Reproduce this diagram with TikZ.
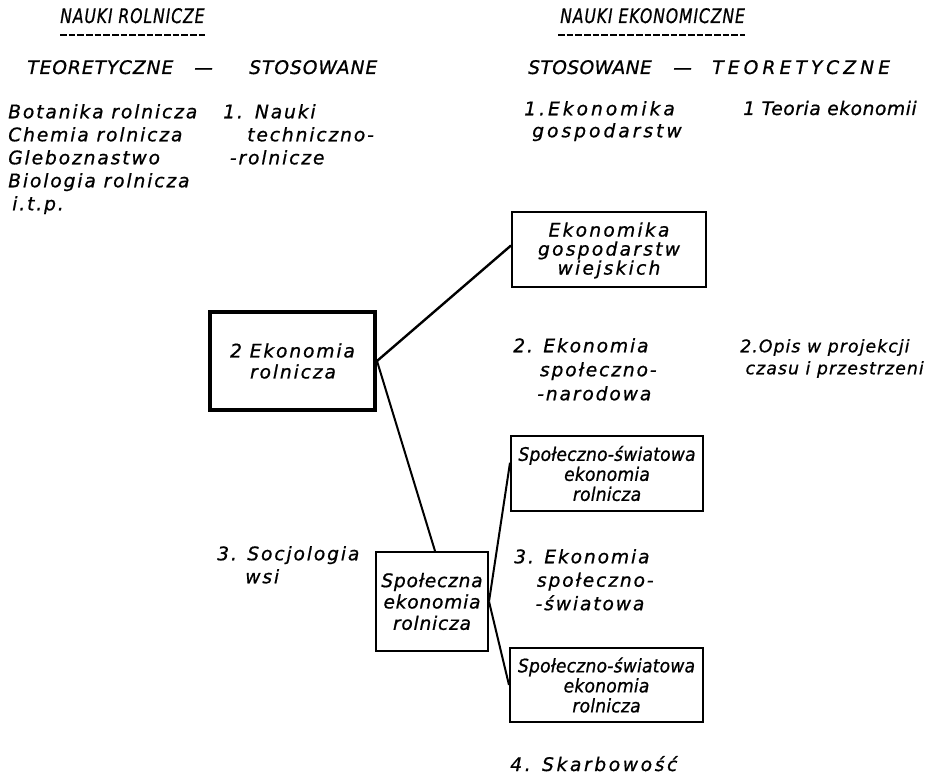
\documentclass[tikz,border=0pt]{standalone}
\usepackage{fontspec}
\usepackage{graphicx}
\newfontfamily\hand{DejaVu Sans}[LetterSpace=10, FakeBold=0.8]
\usetikzlibrary{calc}
\newcommand{\fs}[2]{\fontsize{#1}{#2}\selectfont}
\newcommand{\fl}{\rule{0pt}{12pt}}
\newcommand{\ls}[1]{\addfontfeature{LetterSpace=#1}}
\newcommand{\narrow}[1]{\scalebox{0.78}[1]{#1}}
\begin{document}
\begin{tikzpicture}[x=0.75pt,y=-0.75pt,
  txt/.style={anchor=north west, inner sep=0pt, align=left, font=\hand\itshape\fs{14}{17.25}},
  one/.style={anchor=base west, inner sep=0pt, font=\hand\itshape\fs{14}{17}},
  head/.style={anchor=base west, inner sep=0pt, font=\hand\itshape\fs{15}{17}\ls{6}},
  uline/.style={line width=1.5pt, dash pattern=on 5pt off 1.5pt},
  box/.style={draw, line width=1.5pt, inner sep=0pt, align=center},
  conn/.style={line width=1.5pt}]
\useasboundingbox (0,0) rectangle (946,777);
\fill[white] (0,0) rectangle (946,777);

% headings
\node[head] (hR) at (60,23) {\narrow{NAUKI ROLNICZE}};
\node[head] (hE) at (560,23) {\narrow{NAUKI EKONOMICZNE}};
\draw[uline] ($(hR.base west)+(0,12)$) -- ($(hR.base east)+(0,12)$);
\draw[uline] ($(hE.base west)+(-2,12)$) -- ($(hE.base east)+(0,12)$);

% second row
\node[one, font=\hand\itshape\fs{14}{17}\ls{5}] (tL) at (27,74) {TEORETYCZNE};
\node[one] (dL) at (194,74) {—};
\node[one, font=\hand\itshape\fs{14}{17}\ls{5}] (sL) at (249,74) {STOSOWANE};
\node[one, font=\hand\itshape\fs{14}{17}\ls{2}] (sR) at (528,74) {STOSOWANE};
\node[one] (dR) at (673,74) {—};
\node[one, font=\hand\itshape\fs{14}{17}\ls{22}] (tR) at (712,74) {TEORETYCZNE};

% left column
\node[txt] (teo) at (8,102) {\fl Botanika rolnicza\\Chemia rolnicza\\Gleboznastwo\\Biologia rolnicza\\\hspace*{3pt}i.t.p.};
\node[txt] (n1) at (223,102) {\fl 1.\hspace*{9pt}Nauki\\\hspace*{18pt}techniczno-\\\hspace*{5pt}-rolnicze};

% right column
\node[txt, font=\hand\itshape\fs{14}{16.5}\ls{16}] (e1) at (524,99) {\fl 1.Ekonomika\\\hspace*{6pt}gospodarstw};
\node[one, font=\hand\itshape\fs{14}{17}\ls{3}] (t1) at (743,115) {1 Teoria ekonomii};

\node[box, minimum width=145.5pt, minimum height=56.25pt, font=\hand\itshape\fs{14}{14.25}\ls{12}] (egw) at (609,249.5) {\fl Ekonomika\\gospodarstw\\wiejskich};

\node[box, line width=3pt, minimum width=123.75pt, minimum height=73.5pt, align=left, font=\hand\itshape\fs{14}{15.75}] (box2) at (292.5,361) {2 Ekonomia\\\hspace*{15pt}rolnicza};

\node[txt, font=\hand\itshape\fs{14}{18}] (e2) at (513,336) {\fl 2. Ekonomia\\\hspace*{20pt}społeczno-\\\hspace*{18pt}-narodowa};
\node[txt, font=\hand\itshape\fs{13}{16.5}\ls{6}] (o2) at (740,336) {\fl 2.Opis w projekcji\\\hspace*{4pt}czasu i przestrzeni};

\node[box, minimum width=144pt, minimum height=56.25pt, font=\hand\itshape\fs{14}{15}\addfontfeature{LetterSpace=1,FakeStretch=0.92}] (sw1) at (607,473.5) {Społeczno-światowa\\ekonomia\\rolnicza};

\node[txt] (s3) at (217,544) {\fl 3. Socjologia\\\hspace*{21pt}wsi};

\node[box, minimum width=84pt, minimum height=74.25pt, font=\hand\itshape\fs{14}{16}\ls{4}] (spol) at (432,601.5) {Społeczna\\ekonomia\\rolnicza};

\node[txt, font=\hand\itshape\fs{14}{17.6}] (e3) at (514,547) {\fl 3. Ekonomia\\\hspace*{17pt}społeczno-\\\hspace*{16pt}-światowa};

\node[box, minimum width=144.75pt, minimum height=55.5pt, font=\hand\itshape\fs{14}{15}\addfontfeature{LetterSpace=1,FakeStretch=0.92}] (sw2) at (606.5,685) {Społeczno-światowa\\ekonomia\\rolnicza};

\node[one, font=\hand\itshape\fs{14}{17}\ls{14}] (s4) at (510,771) {4. Skarbowość};

% connectors
\draw[conn, line width=1.8pt] (box2.east) -- ($(egw.west)+(0,-4)$);
\draw[conn] (box2.east) -- ($(spol.north)+(3,0)$);
\draw[conn] (spol.east) -- ($(sw1.north west)!0.36!(sw1.south west)$);
\draw[conn] (spol.east) -- (sw2.west);
\end{tikzpicture}
\end{document}
